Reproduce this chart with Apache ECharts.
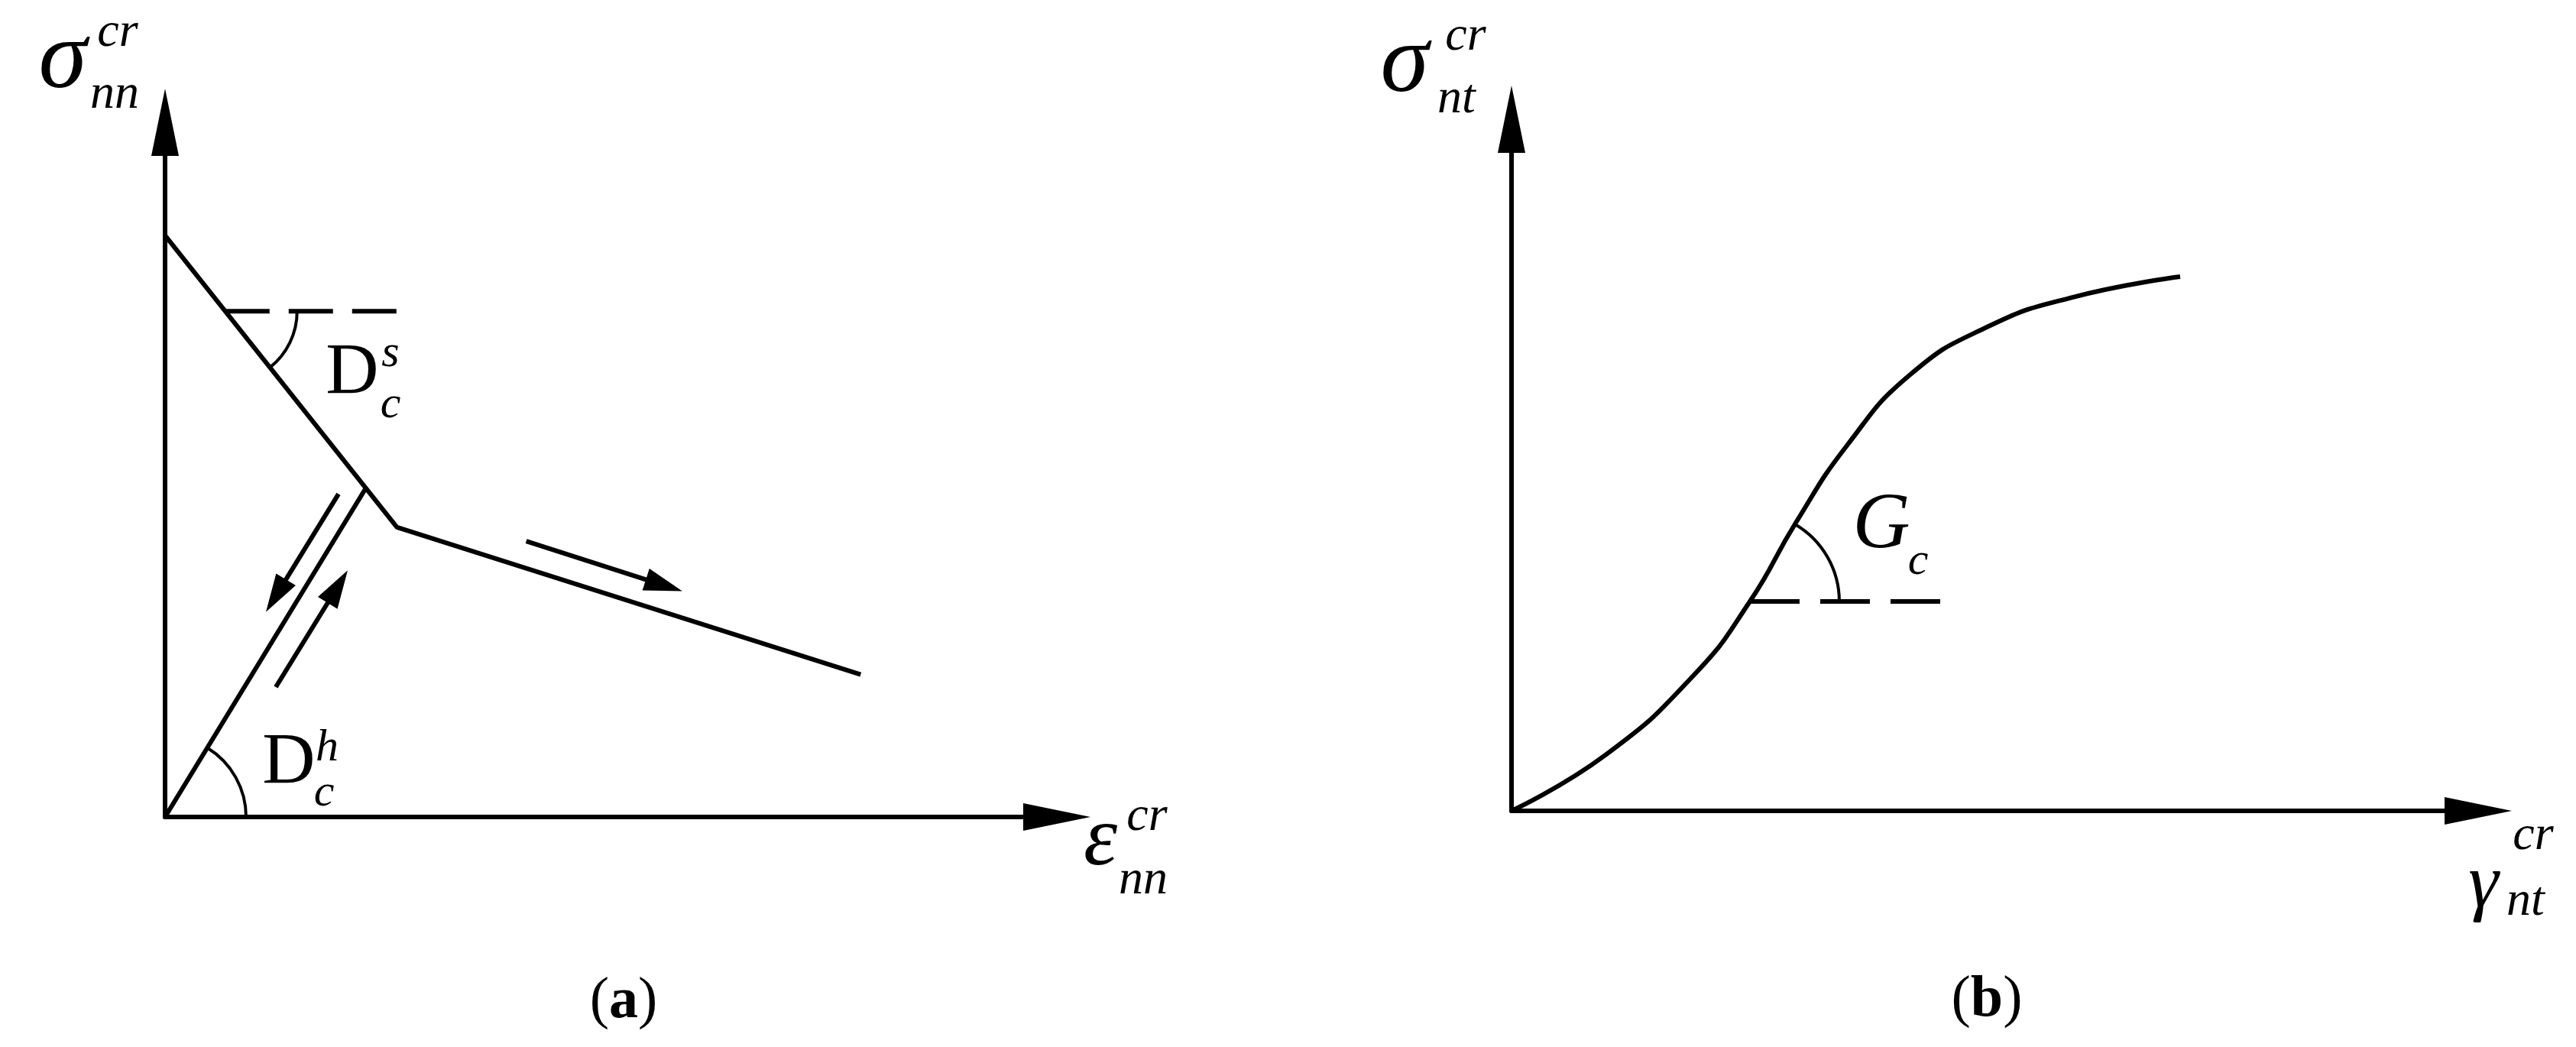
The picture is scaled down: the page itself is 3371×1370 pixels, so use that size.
<!DOCTYPE html>
<html>
<head>
<meta charset="utf-8">
<title>Crack stress - crack strain</title>
<script src="https://cdn.jsdelivr.net/npm/echarts@6.0.0/dist/echarts.min.js"></script>
<style>
  html, body { margin: 0; padding: 0; background: #fff; }
  #main { width: 3371px; height: 1370px; }
</style>
</head>
<body>
<div id="main"></div>
<script>
// (a) normal crack stress vs crack strain, both axes 0..100
var softeningA = [[0, 83.7], [26.0, 41.7], [78.0, 20.5]];
var reloadA = [[0, 0], [22.5, 47.3]];
var dashA = [[6.75, 72.8], [27.1, 72.8]];
// angle marks: centre x, centre y, point on the sloped leg
var anglesA = [[6.75, 72.8, 26.0, 41.7], [0, 0, 22.5, 47.3]];
// direction arrows: from x, from y, to x, to y
var arrowsA = [[19.45, 46.5, 11.31, 29.5], [12.42, 18.7, 20.48, 35.5], [40.5, 39.7, 58.0, 32.5]];

// (b) shear crack stress vs crack strain
var shearX = [0, 9.72, 18.89, 24.66, 29.41, 34.7, 41.26, 49.17, 57.71, 69.17];
var shearY = [0, 8.07, 19.67, 30.28, 41.66, 52.82, 63.09, 69.94, 74.14, 77.24];
var dashB = [[24.66, 30.28], [44.98, 30.28]];
var anglesB = [[24.66, 30.28, 29.41, 41.66]];

// radius of angle arcs in px
var arcRadiusA = [94, 106];
var arcRadiusB = [117];

var chart = echarts.init(document.getElementById('main'));

var shearData = shearX.map(function (x, i) { return [x, shearY[i]]; });

function axis(grid) {
  return {
    gridIndex: grid,
    type: 'value',
    min: 0,
    max: 100,
    axisLine: {
      show: true,
      onZero: false,
      symbol: ['none', 'triangle'],
      symbolSize: [36, 88],
      lineStyle: { color: '#000', width: 6 }
    },
    axisTick: { show: false },
    axisLabel: { show: false },
    splitLine: { show: false }
  };
}

function arcRender(radii) {
  return function (params, api) {
    var c = api.coord([api.value(0), api.value(1)]);
    var p = api.coord([api.value(2), api.value(3)]);
    var a = Math.atan2(p[1] - c[1], p[0] - c[0]);
    return {
      type: 'arc',
      shape: { cx: c[0], cy: c[1], r: radii[params.dataIndex], startAngle: Math.min(a, 0), endAngle: Math.max(a, 0), clockwise: true },
      style: { stroke: '#000', fill: null, lineWidth: 4 }
    };
  };
}

function arrowRender(params, api) {
  var headLen = 50, headW = 30;
  var p1 = api.coord([api.value(0), api.value(1)]);
  var p2 = api.coord([api.value(2), api.value(3)]);
  var dx = p2[0] - p1[0], dy = p2[1] - p1[1];
  var len = Math.sqrt(dx * dx + dy * dy);
  var ux = dx / len, uy = dy / len;
  var bx = p2[0] - ux * headLen, by = p2[1] - uy * headLen;
  return {
    type: 'group',
    children: [{
      type: 'line',
      shape: { x1: p1[0], y1: p1[1], x2: bx + ux * 4, y2: by + uy * 4 },
      style: { stroke: '#000', lineWidth: 6 }
    }, {
      type: 'polygon',
      shape: { points: [[p2[0], p2[1]], [bx - uy * headW / 2, by + ux * headW / 2], [bx + uy * headW / 2, by - ux * headW / 2]] },
      style: { fill: '#000' }
    }]
  };
}

function lineSeries(grid, data, dash) {
  return {
    type: 'line',
    xAxisIndex: grid,
    yAxisIndex: grid,
    data: data,
    showSymbol: false,
    symbol: 'none',
    smooth: (grid === 1 && !dash) ? 0.5 : false,
    lineStyle: { color: '#000', width: 6, type: dash || 'solid' },
    silent: true,
    z: 3
  };
}

//labels
var serif = '"Liberation Serif", "Times New Roman", serif';
function txt(x, y, s, font) {
  return {
    type: 'text',
    x: x,
    y: y,
    style: { text: s, font: font, fill: '#000', align: 'center', verticalAlign: 'middle', textAlign: 'center', textVerticalAlign: 'middle' }
  };
}
var big = 'italic 128px ' + serif;
var small = 'italic 64px ' + serif;

function caption(x, y, letter) {
  return {
    type: 'text',
    x: x,
    y: y,
    style: {
      text: '{p|(}{b|' + letter + '}{p|)}',
      align: 'center', verticalAlign: 'middle', textAlign: 'center', textVerticalAlign: 'middle',
      rich: {
        p: { font: '76px ' + serif, fill: '#000' },
        b: { font: 'bold 76px ' + serif, fill: '#000' }
      }
    }
  };
}

var option = {
  backgroundColor: '#fff',
  animation: false,
  grid: [
    { left: 216, top: 160, width: 1167, height: 909, outerBoundsMode: 'none', containLabel: false },
    { left: 1978, top: 156, width: 1265, height: 905, outerBoundsMode: 'none', containLabel: false }
  ],
  xAxis: [axis(0), axis(1)],
  yAxis: [axis(0), axis(1)],
  series: [
    lineSeries(0, softeningA),
    lineSeries(0, reloadA),
    lineSeries(0, dashA, [58, 25]),
    { type: 'custom', xAxisIndex: 0, yAxisIndex: 0, data: anglesA, renderItem: arcRender(arcRadiusA), silent: true },
    { type: 'custom', xAxisIndex: 0, yAxisIndex: 0, data: arrowsA, renderItem: arrowRender, silent: true },
    lineSeries(1, shearData),
    lineSeries(1, dashB, [65, 27]),
    { type: 'custom', xAxisIndex: 1, yAxisIndex: 1, data: anglesB, renderItem: arcRender(arcRadiusB), silent: true }
  ],
  graphic: [
    // panel a axis titles
    txt(82, 80, 'σ', big),
    txt(154, 43, 'cr', small),
    txt(150, 124, 'nn', small),
    txt(1440, 1102, 'ε', 'italic 112px ' + serif),
    txt(1501, 1069, 'cr', small),
    txt(1496, 1152, 'nn', small),
    // D_c^s, D_c^h
    txt(461, 490, 'D', '96px ' + serif),
    txt(511, 463, 's', 'italic 60px ' + serif),
    txt(511, 530, 'c', 'italic 60px ' + serif),
    txt(378, 1000, 'D', '96px ' + serif),
    txt(428, 979, 'h', 'italic 60px ' + serif),
    txt(424, 1038, 'c', 'italic 60px ' + serif),
    // panel b axis titles
    txt(1838, 85, 'σ', big),
    txt(1918, 48, 'cr', small),
    txt(1906, 130, 'nt', small),
    txt(3250, 1160, 'γ', 'italic 100px ' + serif),
    txt(3315, 1094, 'cr', small),
    txt(3305, 1180, 'nt', small),
    // G_c
    txt(2462, 689, 'G', 'italic 104px ' + serif),
    txt(2510, 735, 'c', 'italic 60px ' + serif),
    caption(816, 1311, 'a'),
    caption(2600, 1309, 'b')
  ]
};

chart.setOption(option);
</script>
</body>
</html>
